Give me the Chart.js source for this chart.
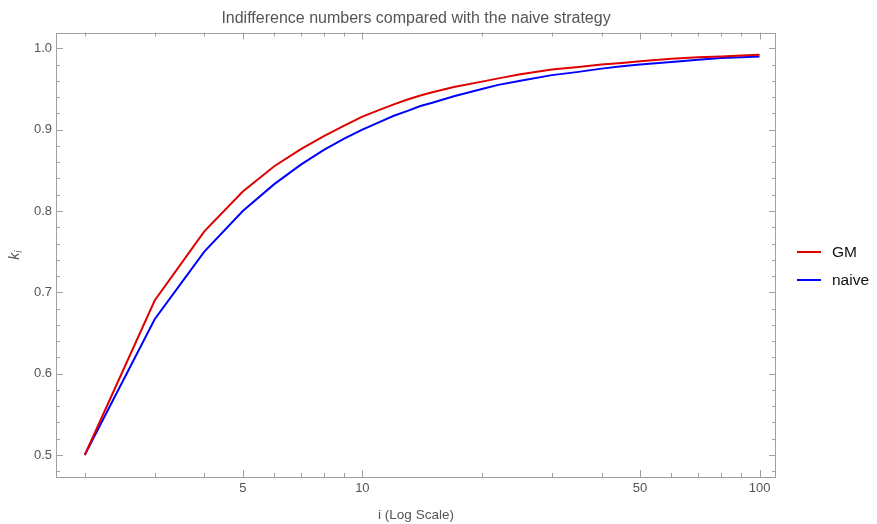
<!DOCTYPE html>
<html>
<head>
<meta charset="utf-8">
<title>Indifference numbers</title>
<script src="https://cdn.jsdelivr.net/npm/chart.js@4.4.1/dist/chart.umd.min.js"></script>
<style>
  html, body { margin: 0; padding: 0; background: #fff; }
  #wrap { width: 877px; height: 524px; }
</style>
</head>
<body>
<div id="wrap"><canvas id="line-chart"></canvas></div>
<script>
// values
const iValues     = [2, 3, 4, 5, 6, 7, 8, 9, 10, 11, 12, 13, 14, 15, 17, 20, 22, 25, 30, 35, 40, 45, 50, 60, 70, 80, 90, 100];
const gmValues    = [0.5, 0.690, 0.775, 0.824, 0.855, 0.876, 0.892, 0.905, 0.916, 0.924, 0.931, 0.937, 0.942, 0.946, 0.9525, 0.959, 0.963, 0.968, 0.974, 0.977, 0.980, 0.982, 0.984, 0.987, 0.989, 0.990, 0.991, 0.992];
const naiveValues = [0.5, 0.667, 0.750, 0.800, 0.833, 0.857, 0.875, 0.889, 0.900, 0.909, 0.917, 0.923, 0.929, 0.933, 0.941, 0.950, 0.955, 0.960, 0.967, 0.971, 0.975, 0.978, 0.980, 0.983, 0.986, 0.988, 0.989, 0.990];

const seriesNames  = ['GM', 'naive'];
const seriesColors = ['#e00000', '#0000ff'];

const xMajorTicks = [5, 10, 50, 100];
const xMinorTicks = [2, 3, 4, 6, 7, 8, 9, 20, 30, 40, 60, 70, 80, 90];
const yMajorTicks = [0.5, 0.6, 0.7, 0.8, 0.9, 1.0];
const yTickLabels = ['0.5', '0.6', '0.7', '0.8', '0.9', '1.0'];

const yMinorTicks = [];
for (let k = 24; k <= 50; k++) {
  if (k % 5 !== 0) yMinorTicks.push(k / 50);
}

const titleText = 'Indifference numbers compared with the naive strategy';
const xTitle = 'i (Log Scale)';

const FONT = '"Liberation Sans", Arial, Helvetica, sans-serif';
const GREY = '#555555';
const FRAME = '#a0a0a0';

function toPoints(values) {
  return iValues.map((x, n) => ({ x: x, y: values[n] }));
}

// frame with inward ticks, y label and legend, Mathematica style
const frameTicks = {
  id: 'frameTicks',
  beforeDatasetsDraw(chart) {
    const { ctx, chartArea: a, scales: { x, y } } = chart;
    ctx.save();
    ctx.strokeStyle = FRAME;
    ctx.lineWidth = 1;
    ctx.strokeRect(Math.round(a.left) + 0.5, Math.round(a.top) + 0.5,
      Math.round(a.right - a.left) - 1, Math.round(a.bottom - a.top) - 1);

    ctx.beginPath();
    const tickX = (v, len) => {
      const px = Math.round(x.getPixelForValue(v)) + 0.5;
      ctx.moveTo(px, a.bottom); ctx.lineTo(px, a.bottom - len);
      ctx.moveTo(px, a.top); ctx.lineTo(px, a.top + len);
    };
    const tickY = (v, len) => {
      const py = Math.round(y.getPixelForValue(v)) + 0.5;
      ctx.moveTo(a.left, py); ctx.lineTo(a.left + len, py);
      ctx.moveTo(a.right, py); ctx.lineTo(a.right - len, py);
    };
    xMajorTicks.forEach(v => tickX(v, 7));
    xMinorTicks.forEach(v => tickX(v, 4));
    yMajorTicks.forEach(v => tickY(v, 7));
    yMinorTicks.forEach(v => tickY(v, 4));
    ctx.stroke();
    ctx.restore();
  },
  afterDraw(chart) {
    const { ctx, chartArea: a } = chart;
    ctx.save();
    // y axis label k_i
    ctx.translate(15, (a.top + a.bottom) / 2);
    ctx.rotate(-Math.PI / 2);
    ctx.fillStyle = GREY;
    ctx.textBaseline = 'alphabetic';
    ctx.font = 'italic 14px ' + FONT;
    ctx.fillText('k', -5, 4);
    ctx.font = 'italic 10px ' + FONT;
    ctx.fillText('i', 2, 7);
    ctx.restore();

    // legend
    ctx.save();
    const mid = (a.top + a.bottom) / 2;
    chart.data.datasets.forEach((ds, n) => {
      const yy = Math.round(mid - 2.5 + n * 28);
      ctx.strokeStyle = ds.borderColor;
      ctx.lineWidth = 2;
      ctx.beginPath();
      ctx.moveTo(a.right + 21, yy);
      ctx.lineTo(a.right + 45, yy);
      ctx.stroke();
      ctx.fillStyle = '#111';
      ctx.font = '15.5px ' + FONT;
      ctx.textBaseline = 'middle';
      ctx.fillText(ds.label, a.right + 56, yy + 1);
    });
    ctx.restore();
  }
};

const chart = new Chart(document.getElementById('line-chart'), {
  type: 'line',
  data: {
    datasets: [
      { label: seriesNames[0], data: toPoints(gmValues), borderColor: seriesColors[0], borderWidth: 2, pointRadius: 0, tension: 0, fill: false },
      { label: seriesNames[1], data: toPoints(naiveValues), borderColor: seriesColors[1], borderWidth: 2, pointRadius: 0, tension: 0, fill: false }
    ]
  },
  options: {
    responsive: true,
    maintainAspectRatio: false,
    animation: false,
    layout: { padding: { top: 0, right: 101, bottom: 0, left: 0 } },
    plugins: {
      legend: { display: false },
      tooltip: { enabled: false },
      title: {
        display: true,
        text: titleText,
        fullSize: false,
        color: GREY,
        font: { family: FONT, size: 16, weight: 'normal' },
        padding: { top: 9, bottom: 4.3 }
      }
    },
    scales: {
      x: {
        type: 'logarithmic',
        min: 1.693,
        max: 110,
        grid: { display: false, drawTicks: false },
        border: { display: false },
        afterBuildTicks: scale => {
          scale.ticks = xMajorTicks.concat(xMinorTicks).sort((p, q) => p - q).map(v => ({ value: v }));
        },
        afterFit: scale => { scale.height = 47; },
        ticks: {
          autoSkip: false,
          maxRotation: 0,
          padding: 4,
          color: GREY,
          font: { family: FONT, size: 13 },
          callback: v => xMajorTicks.includes(v) ? String(v) : ''
        },
        title: {
          display: true,
          text: xTitle,
          color: GREY,
          font: { family: FONT, size: 13.5 },
          padding: { top: 0, bottom: 1 }
        }
      },
      y: {
        min: 0.473,
        max: 1.0194,
        grid: { display: false, drawTicks: false },
        border: { display: false },
        afterBuildTicks: scale => {
          scale.ticks = yMajorTicks.map(v => ({ value: v }));
        },
        afterFit: scale => { scale.width = 56; },
        ticks: {
          autoSkip: false,
          padding: 4,
          color: GREY,
          font: { family: FONT, size: 13 },
          callback: (v, idx) => yTickLabels[idx]
        }
      }
    }
  },
  plugins: [frameTicks]
});
</script>
</body>
</html>
